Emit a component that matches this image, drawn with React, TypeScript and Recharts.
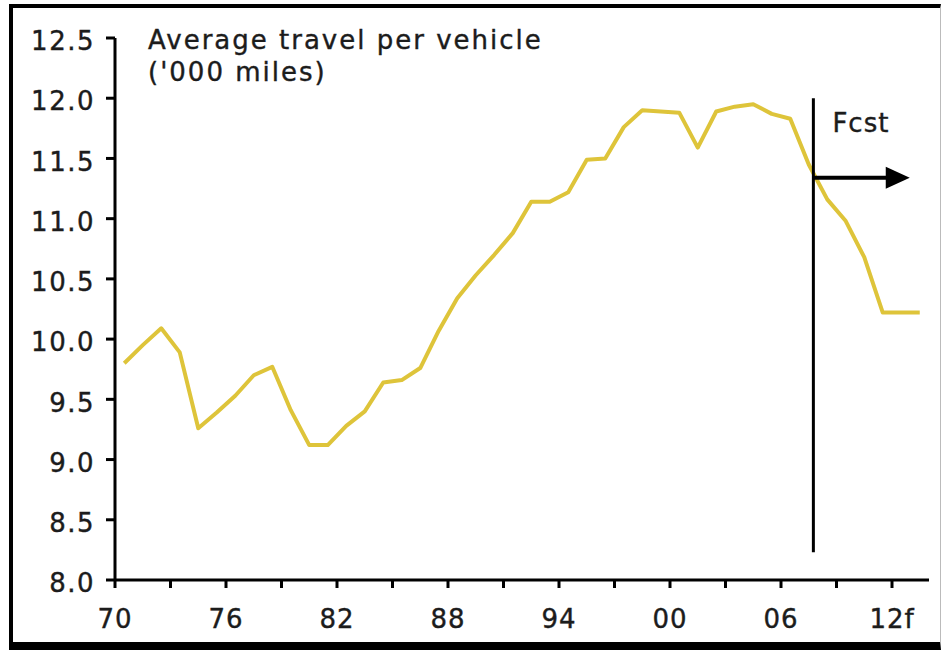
import React from 'react';
import { LineChart, Line, XAxis, YAxis, ReferenceLine } from 'recharts';

const years = [
  1970, 1971, 1972, 1973, 1974, 1975, 1976, 1977, 1978, 1979,
  1980, 1981, 1982, 1983, 1984, 1985, 1986, 1987, 1988, 1989,
  1990, 1991, 1992, 1993, 1994, 1995, 1996, 1997, 1998, 1999,
  2000, 2001, 2002, 2003, 2004, 2005, 2006, 2007, 2008, 2009,
  2010, 2011, 2012, 2013,
];
const travel = [
  9.8, 9.95, 10.09, 9.89, 9.26, 9.39, 9.53, 9.7, 9.77, 9.41,
  9.12, 9.12, 9.28, 9.4, 9.64, 9.66, 9.76, 10.07, 10.34, 10.53,
  10.7, 10.88, 11.14, 11.14, 11.22, 11.49, 11.5, 11.76, 11.9, 11.89,
  11.88, 11.59, 11.89, 11.93, 11.95, 11.87, 11.83, 11.45, 11.16, 10.98,
  10.68, 10.22, 10.22, 10.22,
];
const xTicks = [1970, 1973, 1976, 1979, 1982, 1985, 1988, 1991, 1994, 1997, 2000, 2003, 2006, 2009, 2012];
const labelYears = [1970, 1976, 1982, 1988, 1994, 2000, 2006, 2012];
const labelTexts = ['70', '76', '82', '88', '94', '00', '06', '12f'];
const yTicks = [8.0, 8.5, 9.0, 9.5, 10.0, 10.5, 11.0, 11.5, 12.0, 12.5];
const titleLines = ['Average travel per vehicle', "('000 miles)"];
const forecastLabel = 'Fcst';
const fcstYear = 2007.75;
const fcstTop = 12.0;
const fcstBottom = 8.23;
const arrowLevel = 11.34;
const arrowEnd = 2012.96;

const data = years.map((y, i) => ({ x: y + 0.5, v: travel[i] }));

const FONT = '"DejaVu Sans", Verdana, sans-serif';
const INK = '#1c1c1c';

const xFmt = (v: number) => {
  const i = labelYears.indexOf(v);
  return i >= 0 ? labelTexts[i] : '';
};

const VLineShape = (p: any) => (
  <g>
    <line x1={p.x1} y1={p.y1} x2={p.x2} y2={p.y2} stroke="#000" strokeWidth={3} />
    <text
      x={p.x1 + 19}
      y={Math.min(p.y1, p.y2) + 34}
      fontFamily={FONT}
      fontSize={26}
      letterSpacing={1}
      fill={INK}
      stroke={INK}
      strokeWidth={0.4}
    >
      {forecastLabel}
    </text>
  </g>
);

const ArrowShape = (p: any) => {
  const tip = Math.max(p.x1, p.x2);
  const start = Math.min(p.x1, p.x2);
  const y = p.y1;
  return (
    <g>
      <line x1={start} y1={y} x2={tip - 20} y2={y} stroke="#000" strokeWidth={4} />
      <polygon points={`${tip - 24},${y - 11} ${tip},${y} ${tip - 24},${y + 11}`} fill="#000" />
    </g>
  );
};

const tickText = { fill: INK, stroke: INK, strokeWidth: 0.4, fontSize: 26, fontFamily: FONT };

export default function App() {
  return (
    <div style={{ position: 'absolute', left: 0, top: 0, width: 945, height: 650, background: '#fff', overflow: 'hidden' }}>
      <div
        style={{
          position: 'absolute',
          left: 9,
          top: 4,
          width: 932,
          height: 646,
          boxSizing: 'border-box',
          borderTop: '4px solid #000',
          borderLeft: '4px solid #000',
          borderBottom: '8px solid #000',
          borderRight: '1px solid #bbb',
        }}
      />
      <LineChart
        width={945}
        height={650}
        data={data}
        margin={{ top: 38, right: 16, bottom: 30, left: 15 }}
        style={{ position: 'absolute', left: 0, top: 0 }}
      >
        <XAxis
          dataKey="x"
          type="number"
          domain={[1970, 2014]}
          ticks={xTicks}
          tickFormatter={xFmt}
          height={40}
          axisLine={{ stroke: '#000', strokeWidth: 3 }}
          tickLine={{ stroke: '#000', strokeWidth: 3 }}
          tickSize={8}
          tickMargin={22}
          interval={0}
          tick={{ ...tickText, letterSpacing: 1 }}
          allowDataOverflow
        />
        <YAxis
          type="number"
          domain={[8, 12.5]}
          ticks={yTicks}
          tickFormatter={(v: number) => v.toFixed(1)}
          width={100}
          axisLine={{ stroke: '#000', strokeWidth: 3 }}
          tickLine={{ stroke: '#000', strokeWidth: 3 }}
          tickSize={9}
          tickMargin={11}
          interval={0}
          tick={{ ...tickText, letterSpacing: 1.5, dy: 3 }}
          allowDataOverflow
        />
        <Line
          dataKey="v"
          type="linear"
          stroke="#DEC43A"
          strokeWidth={4}
          strokeLinejoin="round"
          dot={false}
          activeDot={false}
          isAnimationActive={false}
        />
        <ReferenceLine
          segment={[{ x: fcstYear, y: fcstBottom }, { x: fcstYear, y: fcstTop }]}
          shape={VLineShape}
          ifOverflow="visible"
        />
        <ReferenceLine
          segment={[{ x: fcstYear, y: arrowLevel }, { x: arrowEnd, y: arrowLevel }]}
          shape={ArrowShape}
          ifOverflow="visible"
        />
      </LineChart>
      <div
        style={{
          position: 'absolute',
          left: 148,
          top: 24,
          fontFamily: FONT,
          fontSize: 26,
          lineHeight: '32px',
          letterSpacing: 2,
          color: INK,
          WebkitTextStroke: '0.4px ' + INK,
          whiteSpace: 'nowrap',
        }}
      >
        {titleLines.map((t) => (
          <div key={t}>{t}</div>
        ))}
      </div>
    </div>
  );
}
